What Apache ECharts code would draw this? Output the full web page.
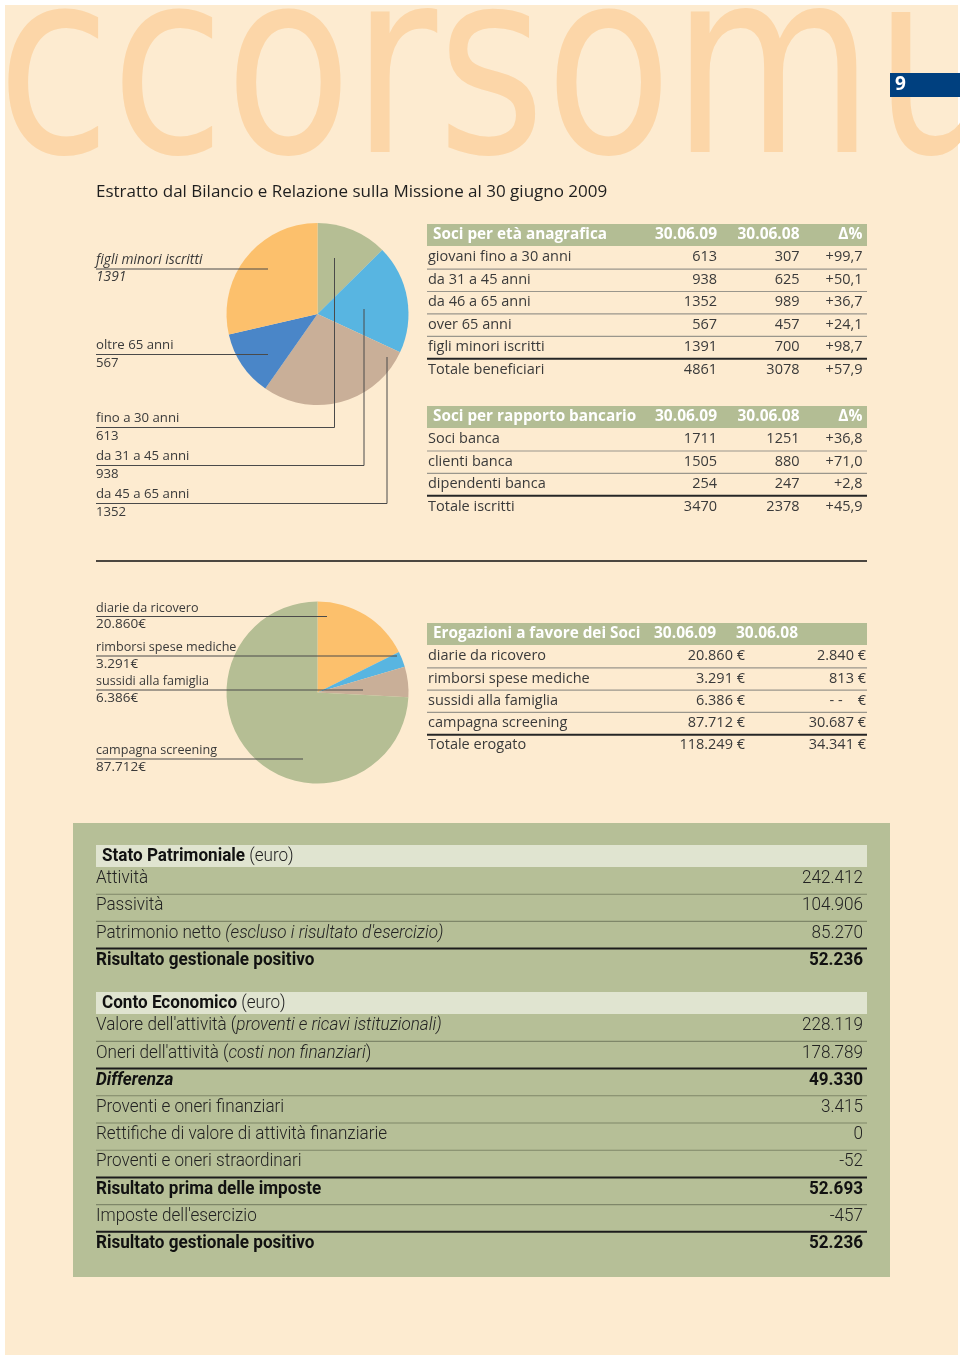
<!DOCTYPE html>
<html><head><meta charset="utf-8">
<script src="https://cdn.jsdelivr.net/npm/echarts@6/dist/echarts.min.js"></script>
<style>html,body{margin:0;padding:0;background:#fff}#c{width:960px;height:1360px}</style>
</head><body><div id="c"></div>
<script>
// ---------------- DATA ----------------
const pageTitle = 'Estratto dal Bilancio e Relazione sulla Missione al 30 giugno 2009';
const watermark = 'ccorsomu';
const pageNumber = '9';

const ageSlices = ['fino a 30 anni', 'da 31 a 45 anni', 'da 45 a 65 anni', 'oltre 65 anni', 'figli minori iscritti'];
const ageSliceValues = [613, 938, 1352, 567, 1391];

const ageHeader = ['Soci per età anagrafica', '30.06.09', '30.06.08', 'Δ%'];
const ageRows = ['giovani fino a 30 anni', 'da 31 a 45 anni', 'da 46 a 65 anni', 'over 65 anni', 'figli minori iscritti', 'Totale beneficiari'];
const age2009 = [613, 938, 1352, 567, 1391, 4861];
const age2008 = [307, 625, 989, 457, 700, 3078];
const ageDelta = ['+99,7', '+50,1', '+36,7', '+24,1', '+98,7', '+57,9'];

const bankHeader = ['Soci per rapporto bancario', '30.06.09', '30.06.08', 'Δ%'];
const bankRows = ['Soci banca', 'clienti banca', 'dipendenti banca', 'Totale iscritti'];
const bank2009 = [1711, 1505, 254, 3470];
const bank2008 = [1251, 880, 247, 2378];
const bankDelta = ['+36,8', '+71,0', '+2,8', '+45,9'];

const benefitSlices = ['diarie da ricovero', 'rimborsi spese mediche', 'sussidi alla famiglia', 'campagna screening'];
const benefit2009 = [20860, 3291, 6386, 87712];
const benefitHeader = ['Erogazioni a favore dei Soci', '30.06.09', '30.06.08'];
const benefitRows = ['diarie da ricovero', 'rimborsi spese mediche', 'sussidi alla famiglia', 'campagna screening', 'Totale erogato'];
const benefitCol2009 = ['20.860 €', '3.291 €', '6.386 €', '87.712 €', '118.249 €'];
const benefitCol2008 = ['2.840 €', '813 €', '- -    €', '30.687 €', '34.341 €'];

const spTitle = ['Stato Patrimoniale', ' (euro)'];
const spRows = [['Attività', '', ''], ['Passività', '', ''], ['Patrimonio netto ', "(escluso i risultato d'esercizio)", ''], ['Risultato gestionale positivo', '', '']];
const spValues = ['242.412', '104.906', '85.270', '52.236'];
const spStyle = ['n', 'n', 'n', 'b'];

const ceTitle = ['Conto Economico', ' (euro)'];
const ceRows = [
  ["Valore dell'attività (", 'proventi e ricavi istituzionali)', ''],
  ["Oneri dell'attività (", 'costi non finanziari', ')'],
  ['Differenza', '', ''],
  ['Proventi e oneri finanziari', '', ''],
  ['Rettifiche di valore di attività finanziarie', '', ''],
  ['Proventi e oneri straordinari', '', ''],
  ['Risultato prima delle imposte', '', ''],
  ["Imposte dell'esercizio", '', ''],
  ['Risultato gestionale positivo', '', '']
];
const ceValues = ['228.119', '178.789', '49.330', '3.415', '0', '-52', '52.693', '-457', '52.236'];
const ceStyle = ['n', 'n', 'bi', 'n', 'n', 'n', 'b', 'n', 'b'];

// ---------------- STYLE / LAYOUT ----------------
const FONT = 'Open Sans';
const COND = 'Roboto';
const TXT = '#3a3a3a';
const ageColors = ['#B5BE94', '#58B5E1', '#C9AF98', '#4A86C8', '#FCC06C'];
const benefitColors = ['#FCC06C', '#58B5E1', '#C9AF98', '#B5BE94'];

function fmtIt(n) { return String(n).replace(/\B(?=(\d{3})+(?!\d))/g, '.'); }

function T(x, y, text, o) {
  o = o || {};
  const a = o.a || 'left';
  const st = {
    text: text, fontFamily: o.ff || FONT, fontSize: o.fs || 14.5, fontWeight: o.fw || 'normal',
    fontStyle: o.fst || 'normal', fill: o.c || TXT,
    textAlign: a, align: a, textVerticalAlign: 'middle', verticalAlign: 'middle'
  };
  if (o.rich) st.rich = o.rich;
  return { type: 'text', x: x, y: y, scaleX: o.sx || 1, z: o.z || 20, silent: true, style: st };
}
function L(x1, y1, x2, y2, stroke, lw, z) {
  return { type: 'line', silent: true, z: z || 15, shape: { x1: x1, y1: y1, x2: x2, y2: y2 }, style: { stroke: stroke, lineWidth: lw } };
}
function R(x, y, w, h, fill, z) {
  return { type: 'rect', silent: true, z: z == null ? 1 : z, shape: { x: x, y: y, width: w, height: h }, style: { fill: fill } };
}

const els = [];
// page background
els.push(R(5, 5, 953, 1350, '#FDEBD0', -20));
els.push(T(-3, 85, watermark, { ff: 'DejaVu Sans', fs: 256, c: '#FCD6A8', sx: 0.81, z: -19 }));
els.push(R(890, 73, 70, 24, '#00407F', -18));
els.push(T(895, 85, pageNumber, { fs: 19, fw: 'bold', c: '#ffffff', z: -17 }));
els.push(T(96, 192, pageTitle, { fs: 17, c: '#1e1e1e' }));

// generic cream table
function creamTable(header, rows, cols, colX, headX, headY, rowY0, pitch) {
  const x0 = 427, x1 = 867;
  els.push(R(x0, headY, x1 - x0, 22, '#B3BD94', 1));
  els.push(T(433, headY + 11, header[0], { fw: 'bold', c: '#ffffff', fs: 15.3 }));
  for (let j = 1; j < header.length; j++) els.push(T(headX[j - 1], headY + 11, header[j], { fw: 'bold', c: '#ffffff', fs: 15.5, a: 'right' }));
  rows.forEach(function (r, i) {
    const y = rowY0 + i * pitch;
    els.push(T(x0 + 1, y, r));
    cols.forEach(function (c, j) { els.push(T(colX[j], y, String(c[i]), { a: 'right' })); });
    if (i < rows.length - 1) {
      const thick = i === rows.length - 2;
      els.push(L(x0, y + pitch / 2 + 0.5, x1, y + pitch / 2 + 0.5, thick ? '#262626' : '#9a968c', thick ? 2 : 1.2));
    }
  });
}
creamTable(ageHeader, ageRows, [age2009, age2008, ageDelta], [717, 799.5, 862.5], [717, 799.5, 862.5], 224, 257.3, 22.45);
creamTable(bankHeader, bankRows, [bank2009, bank2008, bankDelta], [717, 799.5, 862.5], [717, 799.5, 862.5], 406, 439.3, 22.4);
creamTable(benefitHeader, benefitRows, [benefitCol2009, benefitCol2008], [745, 866], [716, 798], 623, 656.3, 22.25);

// separator rule
els.push(L(96, 561, 867, 561, '#111111', 1.6));

// age pie annotations (order of labels on the left)
const ageLab = [
  { i: 4, ly: 269, x2: 268, it: true },
  { i: 3, ly: 354.5, x2: 268 },
  { i: 0, ly: 427.5, x2: 334.5, vy: 258 },
  { i: 1, ly: 465.5, x2: 364, vy: 309 },
  { i: 2, ly: 503.5, x2: 387, vy: 357 }
];
ageLab.forEach(function (d) {
  const o = { fs: d.it ? 13.8 : 13.2, fst: d.it ? 'italic' : 'normal' };
  els.push(T(96, d.ly - 9, ageSlices[d.i], o));
  els.push(T(96, d.ly + 8.5, String(ageSliceValues[d.i]), o));
  els.push(L(96, d.ly, d.x2, d.ly, '#4a4a4a', 1, 30));
  if (d.vy) els.push(L(d.x2, d.ly, d.x2, d.vy, '#4a4a4a', 1, 30));
});
// benefit pie annotations
const benLab = [
  { i: 0, ly: 616.5, x2: 327 },
  { i: 1, ly: 656, x2: 397 },
  { i: 2, ly: 690, x2: 363 },
  { i: 3, ly: 759, x2: 303 }
];
benLab.forEach(function (d) {
  els.push(T(96, d.ly - 8.5, benefitSlices[d.i], { fs: 12.6 }));
  els.push(T(96, d.ly + 8, fmtIt(benefit2009[d.i]) + '€', { fs: 13.5 }));
  els.push(L(96, d.ly, d.x2, d.ly, '#4a4a4a', 1, 30));
});

// green statement box
els.push(R(73, 823, 817, 454, '#B6BF97', -5));
const CFS = 19, CSX = 0.9;
const rich = {
  n: { fontFamily: COND, fontSize: CFS, fontWeight: 300, fontStyle: 'normal', fill: '#222' },
  i: { fontFamily: COND, fontSize: CFS, fontWeight: 300, fontStyle: 'italic', fill: '#222' },
  b: { fontFamily: COND, fontSize: CFS, fontWeight: 'bold', fontStyle: 'normal', fill: '#111' },
  bi: { fontFamily: COND, fontSize: CFS, fontWeight: 'bold', fontStyle: 'italic', fill: '#111' }
};
function statement(title, rows, values, styles, headY, rowY0, pitch) {
  els.push(R(96, headY, 771, 22, '#E0E4D0', -4));
  els.push(T(102, headY + 11, '{b|' + title[0] + '}{n|' + title[1] + '}', { rich: rich, ff: COND, fs: CFS, sx: CSX }));
  rows.forEach(function (r, i) {
    const y = rowY0 + i * pitch;
    const s = styles[i];
    let txt;
    if (s === 'n') {
      txt = '{n|' + r[0] + '}' + (r[1] ? '{i|' + r[1] + '}' : '') + (r[2] ? '{n|' + r[2] + '}' : '');
    } else {
      txt = '{' + s + '|' + r[0] + '}';
    }
    els.push(T(96, y, txt, { rich: rich, ff: COND, fs: CFS, sx: CSX }));
    const vs = s === 'n' ? 'n' : 'b';
    els.push(T(863, y, '{' + vs + '|' + values[i] + '}', { rich: rich, ff: COND, fs: CFS, sx: CSX, a: 'right' }));
    if (i < rows.length - 1) {
      const nextBold = styles[i + 1] !== 'n';
      const yy = y + 15.7;
      els.push(L(96, yy, 867, yy, nextBold ? '#1c1c1c' : '#7f8769', nextBold ? 2 : 1.1, 10));
    }
  });
}
statement(spTitle, spRows, spValues, spStyle, 845, 878.5, 27.2);
statement(ceTitle, ceRows, ceValues, ceStyle, 992, 1025.7, 27.2);

const chart = echarts.init(document.getElementById('c'), null, { renderer: 'canvas' });
chart.setOption({
  animation: false,
  backgroundColor: '#ffffff',
  series: [
    {
      type: 'pie', center: [317.5, 314], radius: 91, startAngle: 90, clockwise: true, silent: true, z: 2,
      label: { show: false }, labelLine: { show: false }, itemStyle: { borderWidth: 0 },
      data: ageSlices.map(function (n, i) { return { name: n, value: ageSliceValues[i], itemStyle: { color: ageColors[i] } }; })
    },
    {
      type: 'pie', center: [317.5, 692.5], radius: 91, startAngle: 90, clockwise: true, silent: true, z: 2,
      label: { show: false }, labelLine: { show: false }, itemStyle: { borderWidth: 0 },
      data: benefitSlices.map(function (n, i) { return { name: n, value: benefit2009[i], itemStyle: { color: benefitColors[i] } }; })
    }
  ],
  graphic: { elements: els }
});
</script></body></html>
